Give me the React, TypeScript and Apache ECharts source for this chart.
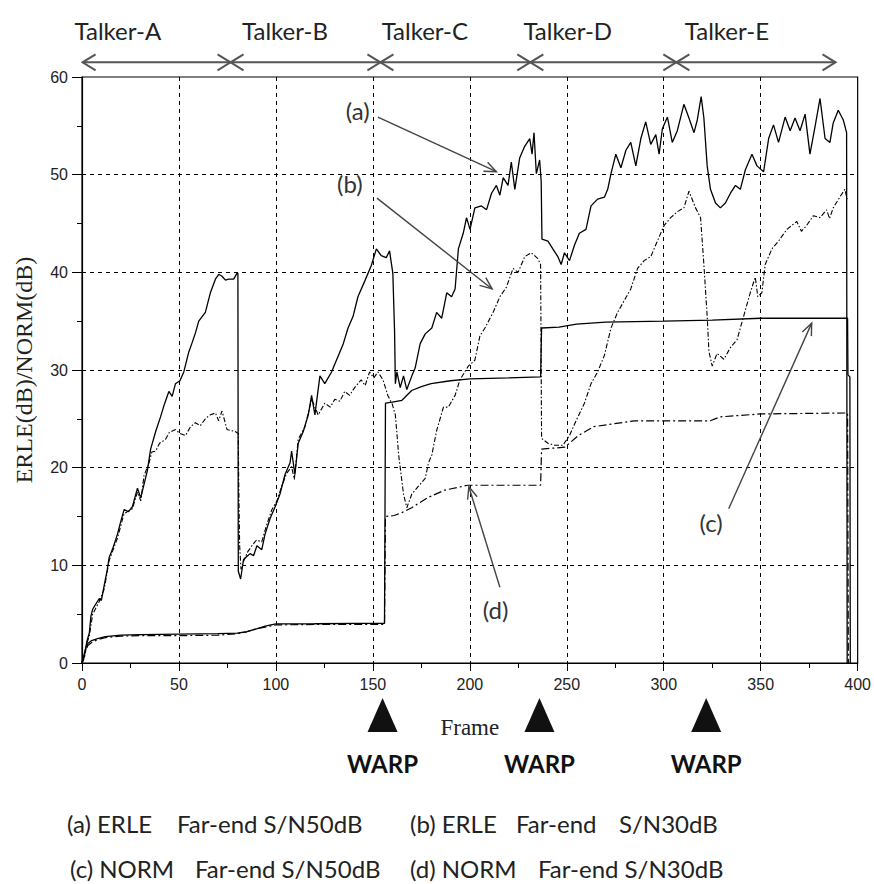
import React, { useEffect, useRef } from 'react';
import * as echarts from 'echarts';

// ---------- data ----------
const erleA50: number[][] = [
  [0, 0], [1.2, 0.7], [2.5, 2.2], [3.8, 3.1], [4.6, 4.8], [5.5, 5.5], [7, 6.0], [8.9, 6.6], [10, 6.4],
  [11.5, 8], [13, 9.5], [14, 10.8], [16, 11.8], [18.3, 13.2], [20, 14.5], [21.7, 15.7], [24, 15.5],
  [26, 16], [28.6, 17.9], [30.3, 16.9], [33.7, 19.7], [35.4, 21.9], [38, 23.7], [40.5, 25.2],
  [42.5, 26.5], [44.8, 27.8], [46.5, 27.3], [48.2, 28.6], [50.5, 28.9], [52.5, 29.8], [55, 31.8],
  [56.8, 32.8], [58.5, 33.8], [60.2, 35], [63.6, 35.9], [66.2, 37.9], [68.8, 39.3], [70.5, 39.8],
  [72.2, 39.6], [74, 39.2], [75.6, 39.3], [78.2, 39.3], [79.9, 39.9], [80.4, 39.9], [80.6, 9.4],
  [81.8, 8.6], [83.3, 10.6], [85, 10.9], [86.7, 11.2], [88.5, 11.0], [90.2, 12], [92.7, 11.6],
  [94.4, 13.2], [97, 14.8], [99.6, 16], [102.1, 17.3], [104.7, 19.3], [107.3, 20.5], [108.1, 21.7],
  [109.8, 19.3], [111.5, 22.5], [114.1, 23.7], [116.7, 25.4], [118.4, 27.4], [120.1, 25.4],
  [122.7, 29.4], [125.2, 28.6], [128.7, 29.8], [131.2, 31], [134.6, 32.6], [137.2, 34.3],
  [139.8, 35.5], [142.3, 37.5], [145.8, 39.1], [149.2, 40.7], [151.8, 42.4], [154.3, 41.7],
  [156.9, 41.5], [158.6, 42.2], [160.3, 39.9], [161.2, 33.9], [161.6, 28.6], [162.4, 29.8],
  [164.1, 28.2], [165.8, 29.4], [167.5, 28], [170.1, 29.4], [171.8, 30.2], [174.4, 32.7], [177, 33.7],
  [180.4, 34.3], [182.9, 35.9], [185.5, 35.3], [188.1, 37.9], [190.6, 37.5], [192.4, 38.3],
  [194.1, 42.4], [196.6, 44], [198.3, 45.6], [200.1, 44.4], [202.6, 46.6], [206, 46.8], [208.6, 46.4],
  [211.2, 48.1], [213.7, 48.9], [215.5, 47.9], [217.2, 49.7], [219.7, 48.9], [221.4, 51.3],
  [223.2, 48.5], [225.7, 51.7], [228.3, 52.9], [230.9, 53.7], [232.1, 52.1], [233.1, 54.3],
  [234.3, 50.1], [236, 51.5], [236.8, 49.3], [237.2, 43.4], [240.3, 43.2], [242.8, 42.4],
  [245.4, 41.6], [247.1, 40.8], [248.8, 42], [251.4, 41.2], [254, 42.8], [256.5, 44], [259.9, 44.4],
  [262.5, 46.8], [265.9, 47.5], [269.4, 47.7], [271.1, 48.5], [272.8, 50.1], [275.3, 52.1],
  [277.9, 50.7], [280.5, 52.5], [283, 53.3], [285.6, 50.9], [288.2, 53.7], [290.7, 55.4],
  [293.3, 53.1], [295.9, 54.1], [297.6, 52.1], [299.3, 54.7], [301.9, 55.9], [304.4, 53.3],
  [307, 54.5], [310.4, 57.2], [313, 55.8], [315.6, 54.3], [317.3, 55.6], [319.3, 58], [320.7, 55.8],
  [322.4, 50.9], [324.1, 48.5], [326.7, 47.1], [329.2, 46.6], [331.8, 47.1], [334.4, 48.1],
  [337, 48.9], [339.5, 48.5], [342.1, 50.5], [345.5, 52.1], [348.1, 50.9], [351.5, 50.3],
  [354.1, 53.7], [356.6, 55.1], [359.2, 53.3], [362.6, 55.9], [365.2, 54.5], [367.7, 55.8],
  [370.3, 54.5], [372.9, 56.2], [375.4, 52.1], [378, 54.9], [380.6, 57.8], [383.2, 53.7],
  [385.7, 53.3], [387.4, 55.3], [390, 56.6], [392.6, 55.6], [394.3, 54.3], [394.6, 0],
];

const erleB30: number[][] = [
  [0, 0], [1.2, 0.5], [2.5, 2.0], [3.8, 2.8], [5.5, 5], [8.9, 6.3], [11.5, 7.6], [14, 10.5],
  [18.3, 12.8], [21.7, 15.3], [26, 15.8], [28.6, 17.5], [30.3, 16.6], [32, 19.2], [34.6, 20.5],
  [36, 21.6], [38, 21.7], [40, 22.5], [43.1, 22.9], [45, 23.6], [48.2, 23.9], [50.5, 23.5],
  [53.4, 23.3], [56, 24.2], [58.5, 24.6], [61, 24.3], [63.6, 25], [66, 25.4], [68.8, 25.6],
  [70.5, 24.8], [72.2, 25.8], [74.8, 23.9], [79, 23.7], [80.6, 23.5], [80.8, 18.9], [81.3, 12],
  [82, 9.6], [83.3, 10.4], [85.5, 11.4], [87.6, 12], [90, 12.6], [92.7, 12.4], [95, 14], [97.9, 15.7],
  [100.5, 16.6], [103, 18.1], [105.5, 19.4], [108.1, 20.1], [109.5, 18.8], [111.5, 22.9], [115, 24.2],
  [118.4, 27], [121.8, 25.4], [125.2, 26.6], [128, 26.2], [130.4, 27], [133, 26.8], [135.5, 27.8],
  [138, 27.4], [140.6, 28.2], [144, 29], [146, 28.4], [148.3, 29.8], [150.5, 29.2], [152.6, 29.8],
  [155.2, 29], [157.7, 27.4], [160, 26.5], [161.6, 25.4], [163.3, 21.3], [165.8, 17.3], [167.5, 15.9],
  [170.1, 17.3], [173.5, 18.1], [177, 18.9], [178.7, 20.5], [180.4, 21.3], [182.9, 23.8],
  [186.4, 26.2], [188.9, 26.2], [192.4, 27.4], [194.9, 29], [199.2, 30.4], [202.6, 31], [205.2, 33.5],
  [207.8, 34.3], [212, 35.9], [215.5, 37.5], [218.9, 38.5], [222.3, 40.4], [224.9, 40], [228.3, 41.6],
  [231.7, 42], [235.1, 41.4], [236.5, 40.8], [237, 23], [240.3, 22.5], [243.7, 22.3], [248, 22.3],
  [251.4, 23.3], [254.8, 24.8], [259.1, 26.6], [262.5, 28.6], [265.9, 29.8], [269.4, 31.5],
  [272.8, 34.3], [276.2, 35.9], [279.6, 37.1], [283, 38.3], [286.5, 40.4], [289.9, 41.2],
  [293.3, 41.6], [296.7, 43.2], [300.2, 44.8], [303.6, 45.6], [307, 46.2], [310.4, 46.6], [313, 48.3],
  [316.4, 46.6], [319, 45.6], [320.7, 40.8], [322.4, 35.5], [323.3, 31.9], [325, 30.4], [327.5, 31.7],
  [331, 31.1], [334.4, 32.3], [337.8, 33.1], [341.2, 35.5], [344.6, 37.9], [347.2, 39.5],
  [348.5, 37.5], [350.6, 37.9], [352.3, 40.8], [355.8, 42.4], [359.2, 43.2], [363.5, 44.4],
  [368.6, 45.2], [371, 44.2], [373.7, 44.8], [377.2, 45.8], [380.6, 45.6], [384, 46.4], [385.5, 45.5],
  [387.4, 46.6], [390.8, 47.7], [393.4, 48.5], [394.6, 47.5],
];

const normC50: number[][] = [
  [0, 0], [1, 0.8], [2, 1.6], [3, 2.0], [5, 2.3], [8, 2.5], [12, 2.7], [20, 2.85], [30, 2.9],
  [50, 2.95], [70, 3.0], [80, 3.05], [85, 3.2], [90, 3.5], [95, 3.8], [100, 4.0], [120, 4.02],
  [140, 4.05], [156, 4.05], [156.5, 26.6], [160, 26.7], [165, 26.9], [170, 27.9], [175, 28.3],
  [180, 28.6], [190, 28.9], [200, 29.1], [220, 29.2], [236.5, 29.3], [237, 34.3], [246, 34.4],
  [255, 34.7], [270, 34.9], [300, 35.0], [325, 35.1], [350, 35.3], [394.8, 35.3], [395, 29.5],
  [396, 29.3], [396.2, 0],
];

const normD30: number[][] = [
  [0, 0], [1, 0.6], [2, 1.3], [3, 1.8], [5, 2.1], [8, 2.4], [12, 2.6], [20, 2.75], [30, 2.8],
  [50, 2.8], [70, 2.85], [80, 3.0], [85, 3.2], [90, 3.5], [95, 3.7], [100, 3.9], [120, 3.95],
  [156, 3.95], [156.5, 15.0], [161, 15.1], [165, 15.4], [170, 15.9], [178, 16.9], [187, 17.7],
  [199, 18.2], [213, 18.2], [236.5, 18.2], [237, 21.9], [249, 22.1], [256, 23.3], [264, 24.2],
  [285, 24.8], [324, 24.8], [329, 25.2], [350, 25.5], [394.8, 25.6], [395.2, 0],
];

// talker segments (frame ranges) and label centres
const talkerNames = ['Talker-A', 'Talker-B', 'Talker-C', 'Talker-D', 'Talker-E'];
const talkerStart = [0.3, 76.6, 153.9, 231.2, 306.5];
const talkerEnd = [76.6, 153.9, 231.2, 306.5, 388.6];
const talkerLabelX = [18.5, 104.7, 176.8, 250.5, 332.6];
const talkerArrowY = 61.5;
const talkerLabelY = 64.8;

// annotations: label position, arrow tail, arrow head (data coords)
const annotNames = ['(a)', '(b)', '(c)', '(d)'];
const annotLabel = [[142.2, 56.6], [138.1, 49.1], [324.4, 14.4], [213.3, 5.5]];
const annotTail = [[152.6, 55.9], [152.1, 47.6], [333.5, 15.8], [215.5, 7.75]];
const annotHead = [[213.7, 50.3], [211.5, 38.3], [376.3, 34.8], [199.5, 18.05]];

// warp frames
const warpFrames = [155, 235.9, 321.9];
const warpLabel = 'WARP';

// legend lines
const legendPieces = [
  { text: '(a) ERLE', x: 67, row: 0 },
  { text: 'Far-end S/N50dB', x: 177, row: 0 },
  { text: '(b) ERLE', x: 410, row: 0 },
  { text: 'Far-end', x: 516, row: 0 },
  { text: 'S/N30dB', x: 619, row: 0 },
  { text: '(c) NORM', x: 70, row: 1 },
  { text: 'Far-end S/N50dB', x: 195, row: 1 },
  { text: '(d) NORM', x: 410, row: 1 },
  { text: 'Far-end S/N30dB', x: 538, row: 1 },
];

const SANS = 'Lato, "Open Sans", sans-serif';

function chevron(tip: number[], dirX: number, dirY: number, len: number, half: number) {
  // dir = unit vector pointing from tip back along the line
  const nx = -dirY, ny = dirX;
  return [
    [tip[0] + dirX * len + nx * half, tip[1] + dirY * len + ny * half],
    [tip[0], tip[1]],
    [tip[0] + dirX * len - nx * half, tip[1] + dirY * len - ny * half],
  ];
}

export default function App() {
  const ref = useRef<HTMLDivElement>(null);
  useEffect(() => {
    document.body.style.margin = '0';
    const chart = echarts.init(ref.current as HTMLDivElement, null, { renderer: 'svg' });

    const axisCommon = {
      axisLine: { show: true, onZero: false, lineStyle: { color: '#000', width: 1.2 } },
      splitLine: { show: true, showMinLine: false, showMaxLine: false, lineStyle: { color: '#000', width: 1, type: [4, 4] } },
      minorTick: { show: true, splitNumber: 2, length: 5, lineStyle: { color: '#000', width: 1 } },
      axisLabel: { color: '#222', fontFamily: '"Liberation Sans", Arial, sans-serif', fontSize: 16, margin: 13 },
    };

    const option: any = {
      animation: false,
      backgroundColor: '#fff',
      grid: { left: 82, right: 13, top: 77, bottom: 221, show: true, borderColor: '#000', borderWidth: 1.2, backgroundColor: 'transparent' },
      xAxis: {
        type: 'value', min: 0, max: 400, interval: 50,
        ...axisCommon,
        axisTick: { show: true, inside: false, length: 8, lineStyle: { color: '#000', width: 1 } },
        name: 'Frame', nameLocation: 'middle', nameGap: 53,
        nameTextStyle: { fontFamily: '"Liberation Serif", "Times New Roman", serif', fontSize: 23, color: '#222' },
      },
      yAxis: {
        type: 'value', min: 0, max: 60, interval: 10,
        ...axisCommon,
        axisTick: { show: true, inside: false, length: 10, lineStyle: { color: '#000', width: 1 } },
        axisLabel: { ...axisCommon.axisLabel, margin: 14 },
        name: 'ERLE(dB)/NORM(dB)', nameLocation: 'middle', nameGap: 46, nameRotate: 90,
        nameTextStyle: { fontFamily: '"Liberation Serif", "Times New Roman", serif', fontSize: 24, color: '#222' },
      },
      graphic: legendPieces.map((p) => ({
        type: 'text', x: p.x, y: p.row === 0 ? 823 : 868,
        style: { text: p.text, font: '24px ' + SANS, fill: '#222', verticalAlign: 'middle', align: 'left' },
      })),
      series: [
        { name: '(a)', type: 'line', data: erleA50, symbol: 'none', z: 4, lineStyle: { color: '#000', width: 1.3 } },
        { name: '(b)', type: 'line', data: erleB30, symbol: 'none', z: 3, lineStyle: { color: '#000', width: 1.1, type: [5, 2, 1.5, 2] } },
        { name: '(c)', type: 'line', data: normC50, symbol: 'none', z: 4, lineStyle: { color: '#000', width: 1.3 } },
        { name: '(d)', type: 'line', data: normD30, symbol: 'none', z: 3, lineStyle: { color: '#000', width: 1.2, type: [8, 3, 2, 3] } },
        {
          type: 'custom', name: 'talkers', clip: false, z: 5, silent: true,
          data: talkerStart.map((s, i) => [s, talkerArrowY, talkerEnd[i]]),
          renderItem: (params: any, api: any) => {
            const i = params.dataIndex;
            const p1 = api.coord([api.value(0), api.value(1)]);
            const p2 = api.coord([api.value(2), api.value(1)]);
            const pl = api.coord([talkerLabelX[i], talkerLabelY]);
            const st = { stroke: '#555', lineWidth: 2, fill: 'none' };
            return {
              type: 'group',
              children: [
                { type: 'line', shape: { x1: p1[0], y1: p1[1], x2: p2[0], y2: p2[1] }, style: st },
                { type: 'polyline', shape: { points: chevron(p1, 1, 0, 13, 8) }, style: st },
                { type: 'polyline', shape: { points: chevron(p2, -1, 0, 13, 8) }, style: st },
                { type: 'text', style: { text: talkerNames[i], x: pl[0], y: pl[1], font: '24px ' + SANS, fill: '#222', align: 'center', verticalAlign: 'middle' } },
              ],
            };
          },
        },
        {
          type: 'custom', name: 'annotations', clip: false, z: 6, silent: true,
          data: annotTail.map((t, i) => [t[0], t[1], annotHead[i][0], annotHead[i][1]]),
          renderItem: (params: any, api: any) => {
            const i = params.dataIndex;
            const t = api.coord([api.value(0), api.value(1)]);
            const h = api.coord([api.value(2), api.value(3)]);
            const pl = api.coord(annotLabel[i]);
            const dx = t[0] - h[0], dy = t[1] - h[1];
            const L = Math.sqrt(dx * dx + dy * dy);
            const st = { stroke: '#444', lineWidth: 1.4, fill: 'none' };
            return {
              type: 'group',
              children: [
                { type: 'line', shape: { x1: t[0], y1: t[1], x2: h[0], y2: h[1] }, style: st },
                { type: 'polyline', shape: { points: chevron(h, dx / L, dy / L, 12, 5) }, style: st },
                { type: 'text', style: { text: annotNames[i], x: pl[0], y: pl[1], font: '24px ' + SANS, fill: '#333', align: 'center', verticalAlign: 'middle' } },
              ],
            };
          },
        },
        {
          type: 'custom', name: 'warp', clip: false, z: 6, silent: true,
          data: warpFrames.map((f) => [f, 0]),
          renderItem: (params: any, api: any) => {
            const p = api.coord([api.value(0), api.value(1)]);
            return {
              type: 'group',
              children: [
                { type: 'polygon', shape: { points: [[p[0], p[1] + 35], [p[0] - 15, p[1] + 69], [p[0] + 15, p[1] + 69]] }, style: { fill: '#111' } },
                { type: 'text', style: { text: warpLabel, x: p[0], y: p[1] + 100, font: 'bold 24px ' + SANS, fill: '#111', align: 'center', verticalAlign: 'middle' } },
              ],
            };
          },
        },
      ],
    };
    chart.setOption(option);
    return () => chart.dispose();
  }, []);
  return <div ref={ref} style={{ width: 874, height: 884 }} />;
}
